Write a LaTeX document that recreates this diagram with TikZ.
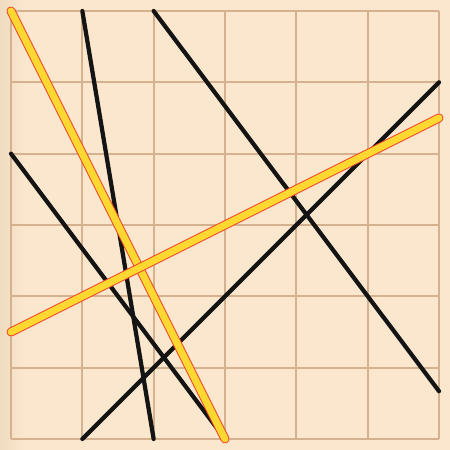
\documentclass[tikz,border=0pt]{standalone}
\begin{document}
\begin{tikzpicture}[x=1bp,y=-1bp,
  gridline/.style={draw=gridc,line width=2.2bp},
  blackline/.style={draw=black!92,line width=4.2bp,line cap=round},
  yellowout/.style={draw=redc,line width=9bp,line cap=round},
  yellowin/.style={draw=yellowc,line width=7bp,line cap=round}]
\definecolor{bgc}{HTML}{FAE7CD}
\definecolor{edgec}{HTML}{EFDBBF}
\definecolor{gridc}{HTML}{D6B18F}
\definecolor{redc}{HTML}{F0442A}
\definecolor{yellowc}{HTML}{FDD830}
\useasboundingbox (0,0) rectangle (450,450);
\fill[bgc] (0,0) rectangle (450,450);
\shade[left color=edgec,right color=bgc] (0,0) rectangle (24,450);
\begin{scope}[shift={(11,11)},x=71.33bp,y=-71.33bp]
  \foreach \i in {0,...,6} {
    \draw[gridline] (\i,0) -- (\i,6);
    \draw[gridline] (0,\i) -- (6,\i);
  }
  \coordinate (b1s) at (1,0);   \coordinate (b1e) at (2,6);
  \coordinate (b2s) at (2,0);   \coordinate (b2e) at (6,5.33);
  \coordinate (b3s) at (0,2);   \coordinate (b3e) at (3,6);
  \coordinate (b4s) at (1,6);   \coordinate (b4e) at (6,1);
  \coordinate (y1s) at (0,0);   \coordinate (y1e) at (3,6);
  \coordinate (y2s) at (0,4.5); \coordinate (y2e) at (6,1.5);
  \draw[blackline] (b1s) -- (b1e);
  \draw[blackline] (b2s) -- (b2e);
  \draw[blackline] (b3s) -- (b3e);
  \draw[blackline] (b4s) -- (b4e);
  \draw[yellowout] (y1s) -- (y1e);
  \draw[yellowin] (y1s) -- (y1e);
  \draw[yellowout] (y2s) -- (y2e);
  \draw[yellowin] (y2s) -- (y2e);
\end{scope}
\end{tikzpicture}
\end{document}
